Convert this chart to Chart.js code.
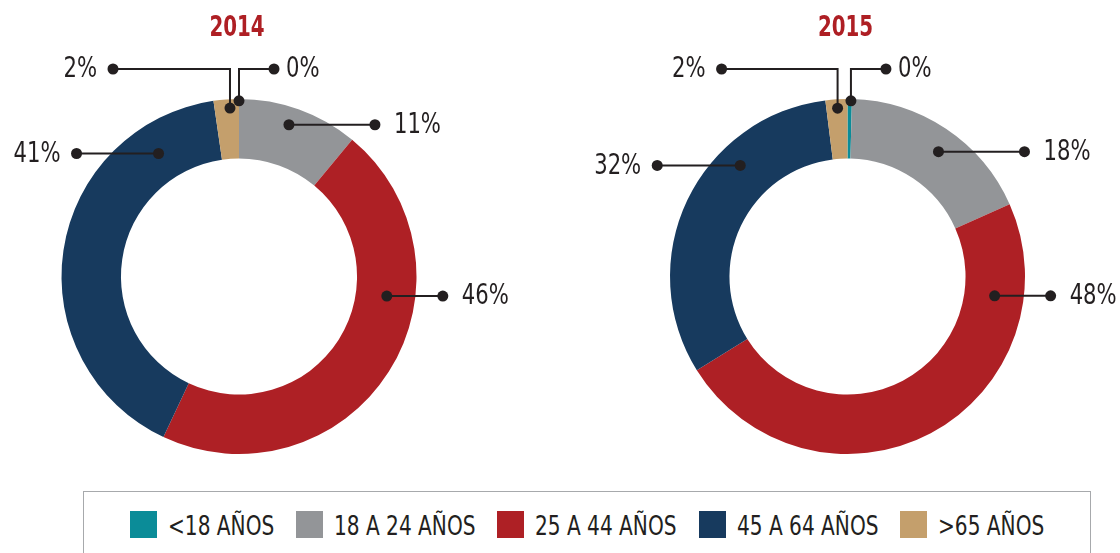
<!DOCTYPE html>
<html>
<head>
<meta charset="utf-8">
<script src="https://cdn.jsdelivr.net/npm/chart.js@4.4.1/dist/chart.umd.min.js"></script>
<style>
  body {
    margin: 0;
    width: 1120px;
    height: 553px;
    overflow: hidden;
    background: #fff;
    position: relative;
    font-family: "DejaVu Sans Condensed", "DejaVu Sans", sans-serif;
    color: #231f20;
  }
  #grafico2014 { position: absolute; left: 0; top: 0; }
  #grafico2015 { position: absolute; left: 560px; top: 0; }
  #leyenda {
    position: absolute;
    left: 83px;
    top: 491px;
    width: 1008px;
    height: 90px;
    box-sizing: border-box;
    border: 1.5px solid #a7a9ac;
    display: flex;
    justify-content: center;
    align-items: flex-start;
    padding-top: 19px;
    gap: 22px;
  }
  .item { display: flex; align-items: center; font-size: 26px; line-height: 27px; white-space: pre; }
  .item span.caja { width: 27px; height: 27px; margin-right: 11px; display: inline-block; }
  .item span.txt { display: inline-block; position: relative; top: 2px; transform-origin: 0 50%; }
</style>
</head>
<body>
<canvas id="grafico2014" width="560" height="490"></canvas>
<canvas id="grafico2015" width="560" height="490"></canvas>
<div id="leyenda"></div>
<script>
// Datos (porcentaje por grupo de edad)
const categorias = ['<18 AÑOS', '18 A 24 AÑOS', '25 A 44 AÑOS', '45 A 64 AÑOS', '>65 AÑOS'];
const valores2014 = [0, 11, 46, 40.7, 2.3];
const valores2015 = [0.4, 18, 48, 32, 2];
const colores = ['#0b8c98', '#939598', '#ae2025', '#173a5e', '#c49f6c'];

const fuente = '"DejaVu Sans Condensed", "DejaVu Sans", sans-serif';
const colorTexto = '#231f20';
const colorTitulo = '#ae1f24';

// Llamadas: t = fracción del arco, r = fracción del radio, dx = largo de la línea
const llamadas2014 = [
  { t: 0.5, r: 0.99, dx: 35, codo: true },
  { t: 0.46, r: 0.90, dx: 86 },
  { t: 0.35, r: 0.84, dx: 56 },
  { t: 0.83, r: 0.828, dx: -82 },
  { t: 0.63, r: 0.95, dx: -117, codo: true }
];
const llamadas2015 = [
  { t: 0.78, r: 0.99, dx: 35, codo: true },
  { t: 0.537, r: 0.87, dx: 86 },
  { t: 0.183, r: 0.836, dx: 56 },
  { t: 0.679, r: 0.87, dx: -83 },
  { t: 0.53, r: 0.95, dx: -116, codo: true }
];

// Texto comprimido en horizontal (imita una fuente condensada)
function textoAngosto(ctx, texto, x, y, align, k) {
  ctx.save();
  ctx.translate(x, y);
  ctx.scale(k, 1);
  ctx.textAlign = align;
  ctx.fillText(texto, 0, 0);
  ctx.restore();
}

// Dibuja título, líneas con puntos y el porcentaje de cada segmento
const pluginLlamadas = {
  id: 'llamadas',
  afterDatasetsDraw(chart, args, opts) {
    const ctx = chart.ctx;
    const meta = chart.getDatasetMeta(0);
    const datos = chart.data.datasets[0].data;
    const total = datos.reduce((a, b) => a + b, 0);
    ctx.save();
    ctx.textBaseline = 'middle';

    // título del año
    const centro = meta.data[0].getProps(['x', 'y', 'outerRadius']);
    ctx.fillStyle = colorTitulo;
    ctx.font = 'bold 29px ' + fuente;
    textoAngosto(ctx, opts.titulo, centro.x - 2, 28, 'center', 0.76);

    ctx.strokeStyle = colorTexto;
    ctx.fillStyle = colorTexto;
    ctx.lineWidth = 2;
    ctx.font = '28px ' + fuente;
    meta.data.forEach((arc, i) => {
      const c = opts.items[i];
      const p = arc.getProps(['x', 'y', 'startAngle', 'endAngle', 'outerRadius']);
      const ang = p.startAngle + c.t * (p.endAngle - p.startAngle);
      const x0 = p.x + c.r * p.outerRadius * Math.cos(ang);
      const y0 = p.y + c.r * p.outerRadius * Math.sin(ang);
      let y1 = y0;
      ctx.beginPath();
      ctx.moveTo(x0, y0);
      if (c.codo) {
        y1 = p.y - p.outerRadius - 30;
        ctx.lineTo(x0, y1);
      }
      const x1 = x0 + c.dx;
      ctx.lineTo(x1, y1);
      ctx.stroke();
      [[x0, y0], [x1, y1]].forEach(pt => {
        ctx.beginPath();
        ctx.arc(pt[0], pt[1], 5.5, 0, Math.PI * 2);
        ctx.fill();
      });
      const etiqueta = Math.round(datos[i] / total * 100) + '%';
      let sep = c.dx > 0 ? (c.codo ? 12 : 19) : -16;
      textoAngosto(ctx, etiqueta, x1 + sep, y1 + 1, c.dx > 0 ? 'left' : 'right', 0.84);
    });
    ctx.restore();
  }
};

function crearDona(id, titulo, valores, llamadas, padding) {
  return new Chart(document.getElementById(id), {
    type: 'doughnut',
    data: {
      labels: categorias,
      datasets: [{
        data: valores,
        backgroundColor: colores,
        borderWidth: 0
      }]
    },
    options: {
      responsive: false,
      animation: false,
      cutout: '66.5%',
      layout: { padding: padding },
      plugins: {
        legend: { display: false },
        tooltip: { enabled: false },
        llamadas: { items: llamadas, titulo: titulo }
      }
    },
    plugins: [pluginLlamadas]
  });
}

crearDona('grafico2014', '2014', valores2014, llamadas2014, { left: 61, right: 143, top: 99, bottom: 36 });
crearDona('grafico2015', '2015', valores2015, llamadas2015, { left: 110, right: 95, top: 99, bottom: 36 });

// Leyenda común
const leyenda = document.getElementById('leyenda');
const escalaLeyenda = 0.86;
categorias.forEach((cat, i) => {
  const item = document.createElement('div');
  item.className = 'item';
  const caja = document.createElement('span');
  caja.className = 'caja';
  caja.style.background = colores[i];
  const txt = document.createElement('span');
  txt.className = 'txt';
  txt.textContent = cat;
  item.appendChild(caja);
  item.appendChild(txt);
  leyenda.appendChild(item);
  const w = txt.offsetWidth;
  txt.style.transform = 'scaleX(' + escalaLeyenda + ')';
  txt.style.marginRight = (-(1 - escalaLeyenda) * w) + 'px';
});
</script>
</body>
</html>
